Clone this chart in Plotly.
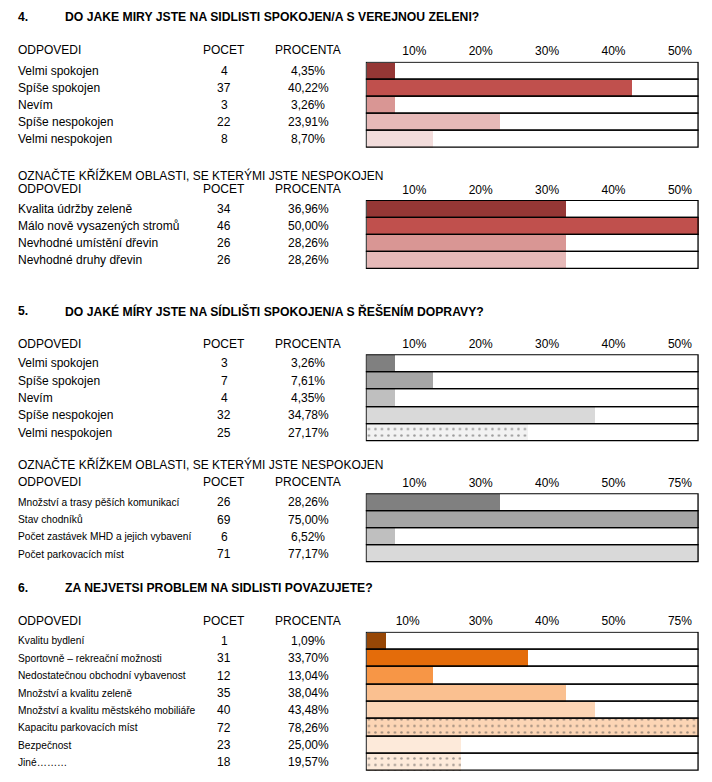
import plotly.graph_objects as go

W, H = 712, 782

# ---------------- data ----------------
col_headers = ["ODPOVEDI", "POCET", "PROCENTA"]
subtitle = "OZNAČTE KŘÍŽKEM OBLASTI, SE KTERÝMI JSTE NESPOKOJEN"

q4_num = "4."
q4_title = "DO JAKE MIRY JSTE NA SIDLISTI SPOKOJEN/A S VEREJNOU ZELENI?"
q4_labels = ["Velmi spokojen", "Spíše spokojen", "Nevím", "Spíše nespokojen", "Velmi nespokojen"]
q4_counts = [4, 37, 3, 22, 8]
q4_pct = ["4,35%", "40,22%", "3,26%", "23,91%", "8,70%"]
q4_bar = [4.2, 40.0, 4.2, 20.0, 10.0]
q4_ticks = ["10%", "20%", "30%", "40%", "50%"]

q4b_labels = ["Kvalita údržby zeleně", "Málo nově vysazených stromů", "Nevhodné umístění dřevin", "Nevhodné druhy dřevin"]
q4b_counts = [34, 46, 26, 26]
q4b_pct = ["36,96%", "50,00%", "28,26%", "28,26%"]
q4b_bar = [30.0, 50.0, 30.0, 30.0]
q4b_ticks = ["10%", "20%", "30%", "40%", "50%"]

q5_num = "5."
q5_title = "DO JAKÉ MÍRY JSTE NA SÍDLIŠTI SPOKOJEN/A S ŘEŠENÍM DOPRAVY?"
q5_labels = ["Velmi spokojen", "Spíše spokojen", "Nevím", "Spíše nespokojen", "Velmi nespokojen"]
q5_counts = [3, 7, 4, 32, 25]
q5_pct = ["3,26%", "7,61%", "4,35%", "34,78%", "27,17%"]
q5_bar = [4.2, 10.0, 4.2, 34.4, 24.3]
q5_ticks = ["10%", "20%", "30%", "40%", "50%"]

q5b_labels = ["Množství a trasy pěších komunikací", "Stav chodníků", "Počet zastávek MHD a jejich vybavení", "Počet parkovacích míst"]
q5b_counts = [26, 69, 6, 71]
q5b_pct = ["28,26%", "75,00%", "6,52%", "77,17%"]
q5b_bar = [20.0, 50.0, 4.2, 50.0]
q5b_ticks = ["10%", "30%", "40%", "50%", "75%"]

q6_num = "6."
q6_title = "ZA NEJVETSI PROBLEM NA SIDLISTI POVAZUJETE?"
q6_labels = ["Kvalitu bydlení", "Sportovně – rekreační možnosti", "Nedostatečnou obchodní vybavenost",
             "Množství a kvalitu zeleně", "Množství a kvalitu městského mobiliáře", "Kapacitu parkovacích míst",
             "Bezpečnost", "Jiné………"]
q6_counts = [1, 31, 12, 35, 40, 72, 23, 18]
q6_pct = ["1,09%", "33,70%", "13,04%", "38,04%", "43,48%", "78,26%", "25,00%", "19,57%"]
q6_bar = [2.9, 24.3, 10.0, 30.0, 34.4, 50.0, 14.2, 14.2]
q6_ticks = ["10%", "30%", "40%", "50%", "75%"]

# ---------------- styles ----------------
reds = ["#953735", "#C0504D", "#D99694", "#E6B9B8", "#F2DCDB"]
greys = ["#808080", "#A6A6A6", "#BFBFBF", "#D9D9D9", "#F2F2F2"]
oranges = ["#974706", "#E46C0A", "#F79646", "#FAC090", "#FCD5B5", "#FCD5B5", "#FDEADA", "#FDEADA"]

FONT = "Liberation Sans, Arial, sans-serif"
HFONT = "Liberation Sans, Arial, sans-serif"
XMAX = 50
BOX_L, BOX_R = 365.7, 699.3
X_LABEL, X_COUNT, X_PCT = 16, 224, 308

fig = go.Figure()
annotations = []


def px_x(p):
    return p / W


def px_y(p):
    return 1 - p / H


def add_block(k, labels, counts, pct, bar, colors, shapes, ticks, tickpos,
              box_top, box_bot, header_y, label_size=12):
    xa = "x" if k == 1 else f"x{k}"
    ya = "y" if k == 1 else f"y{k}"
    n = len(labels)
    idx = list(range(n))
    fig.add_trace(go.Bar(
        orientation="h", x=bar, y=idx, base=0, width=1, xaxis=xa, yaxis=ya,
        marker=dict(color=colors, line=dict(width=0),
                    pattern=dict(shape=shapes, bgcolor=colors, fgcolor="#000000",
                                 size=6.5, solidity=0.12)),
        hoverinfo="skip", showlegend=False))
    fig.add_trace(go.Bar(
        orientation="h", x=[XMAX] * n, y=idx, base=0, width=1, xaxis=xa, yaxis=ya,
        marker=dict(color="rgba(0,0,0,0)", line=dict(color="#000000", width=1.3)),
        hoverinfo="skip", showlegend=False))
    lay = {}
    lay["xaxis" if k == 1 else f"xaxis{k}"] = dict(
        domain=[px_x(BOX_L), px_x(BOX_R)], range=[-0.12, XMAX + 0.12], anchor=ya,
        side="top", tickvals=tickpos, ticktext=ticks, ticks="", showgrid=False,
        zeroline=False, showline=False, ticklabelstandoff=3,
        tickfont=dict(family=FONT, size=12, color="#000"),
        fixedrange=True)
    lay["yaxis" if k == 1 else f"yaxis{k}"] = dict(
        domain=[px_y(box_bot), px_y(box_top)], range=[n - 0.47, -0.53], anchor=xa,
        visible=False, fixedrange=True)
    fig.update_layout(**lay)
    # header row
    for txt, xp, anc in zip(col_headers, [X_LABEL, X_COUNT, X_PCT], ["left", "center", "center"]):
        annotations.append(dict(text=txt, x=px_x(xp), y=px_y(header_y), xref="paper", yref="paper",
                                xanchor=anc, yanchor="middle", showarrow=False,
                                font=dict(family=FONT, size=12, color="#000")))
    for i in idx:
        annotations.append(dict(text=labels[i], x=px_x(X_LABEL), y=i, xref="paper", yref=ya,
                                xanchor="left", yanchor="middle", showarrow=False,
                                font=dict(family=FONT, size=label_size, color="#000")))
        annotations.append(dict(text=str(counts[i]), x=px_x(X_COUNT), y=i, xref="paper", yref=ya,
                                xanchor="center", yanchor="middle", showarrow=False,
                                font=dict(family=FONT, size=12, color="#000")))
        annotations.append(dict(text=pct[i], x=px_x(X_PCT), y=i, xref="paper", yref=ya,
                                xanchor="center", yanchor="middle", showarrow=False,
                                font=dict(family=FONT, size=12, color="#000")))


def add_heading(num, title, y):
    annotations.append(dict(text=f"<b>{num}</b>", x=px_x(16), y=px_y(y), xref="paper", yref="paper",
                            xanchor="left", yanchor="middle", showarrow=False,
                            font=dict(family=HFONT, size=12.2, color="#000")))
    annotations.append(dict(text=f"<b>{title}</b>", x=px_x(63), y=px_y(y), xref="paper", yref="paper",
                            xanchor="left", yanchor="middle", showarrow=False,
                            font=dict(family=HFONT, size=12.2, color="#000")))


def add_sub(y):
    annotations.append(dict(text=subtitle, x=px_x(X_LABEL), y=px_y(y), xref="paper", yref="paper",
                            xanchor="left", yanchor="middle", showarrow=False,
                            font=dict(family=FONT, size=12, color="#000")))


tick_a = [7.2, 17.2, 27.2, 37.2, 47.2]
tick_b = [6.2, 17.2, 27.2, 37.2, 47.2]

add_heading(q4_num, q4_title, 17)
add_block(1, q4_labels, q4_counts, q4_pct, q4_bar, reds[:5], [""] * 5, q4_ticks, tick_a,
          61.7, 148.3, 50)
add_sub(175)
add_block(2, q4b_labels, q4b_counts, q4b_pct, q4b_bar, reds[:4], [""] * 4, q4b_ticks, tick_a,
          200, 269.3, 189)
add_heading(q5_num, q5_title, 311)
add_block(3, q5_labels, q5_counts, q5_pct, q5_bar, greys, ["", "", "", "", "."], q5_ticks, tick_a,
          354.3, 442, 344)
add_sub(465)
add_block(4, q5b_labels, q5b_counts, q5b_pct, q5b_bar, greys[:4], [""] * 4, q5b_ticks, tick_a,
          493.3, 563.3, 481.7, label_size=10.2)
add_heading(q6_num, q6_title, 588)
add_block(5, q6_labels, q6_counts, q6_pct, q6_bar, oranges, ["", "", "", "", "", ".", "", "."],
          q6_ticks, tick_b, 631.7, 771.7, 620.7, label_size=10.2)

fig.update_layout(
    width=W, height=H, margin=dict(l=0, r=0, t=0, b=0),
    paper_bgcolor="white", plot_bgcolor="rgba(0,0,0,0)",
    barmode="overlay", bargap=0, showlegend=False,
    annotations=annotations,
    font=dict(family=FONT, size=12, color="#000"),
)

fig.write_html("out.html", config={"displayModeBar": False},
               post_script="document.body.style.margin='0';document.body.style.padding='0';")
